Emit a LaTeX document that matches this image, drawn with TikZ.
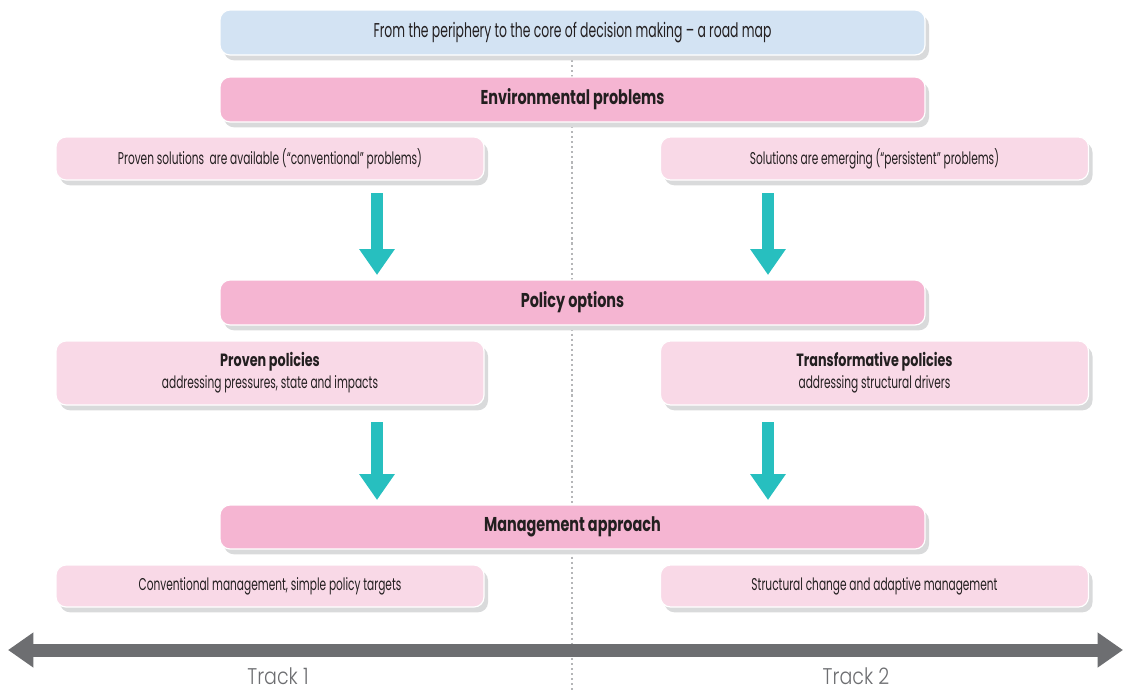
\documentclass[tikz,border=0pt]{standalone}
\usepackage{fontspec}
\setmainfont{Poppins}[FakeStretch=0.62, BoldFeatures={FakeStretch=0.72}]
\newfontfamily\trackfont{Poppins}[UprightFont={* Light}, FakeStretch=0.84]
\usetikzlibrary{arrows.meta,shadows}
\definecolor{topblue}{HTML}{D3E3F3}
\definecolor{pinkA}{HTML}{F5B5D2}
\definecolor{pinkB}{HTML}{F9D9E7}
\definecolor{tealA}{HTML}{27BFBF}
\definecolor{grayA}{HTML}{6D6E71}
\definecolor{shadowgray}{HTML}{D9DADB}
\definecolor{txt}{HTML}{231F20}
\definecolor{dotgray}{HTML}{B5B6B8}
\begin{document}
\begin{tikzpicture}[x=0.75pt,y=-0.75pt,
  card/.style={rounded corners=7.5pt, draw=white, line width=0.9pt, align=center, inner sep=0pt, text=txt,
    general shadow={fill=shadowgray, shadow xshift=3pt, shadow yshift=-4pt}},
  wide/.style={card, minimum width=528.75pt},
  side/.style={card, minimum width=321pt},
  headbox/.style={wide, fill=pinkA, minimum height=33.75pt, font=\fontsize{15}{18}\selectfont\bfseries},
  subbox/.style={side, fill=pinkB, font=\fontsize{12.8}{15}\selectfont},
  tealarrow/.style={draw=tealA, line width=9pt, -{Triangle[width=25.5pt,length=19.5pt]}},
  grayarrow/.style={draw=grayA, line width=9.75pt, {Triangle[width=25pt,length=19pt]}-{Triangle[width=25pt,length=19pt]}},
  dotline/.style={draw=dotgray, line width=0.8pt, dash pattern=on 1.6pt off 2.2pt},
  tracklabel/.style={text=grayA, font=\trackfont\fontsize{17}{20}\selectfont, inner sep=0pt, anchor=base}
]
\useasboundingbox (0,0) rectangle (1124,690);
% dotted centre line
\coordinate (dtop) at (572,55);
\coordinate (dbot) at (572,690);
\draw[dotline] (dtop) -- (dbot);

\node[wide, fill=topblue, minimum height=33.75pt, font=\fontsize{15}{18}\selectfont] (title) at (572.5,32.5) {From the periphery to the core of decision making -- a road map};

\node[headbox] (env) at (572.5,99.5) {Environmental problems};
\node[subbox, minimum height=32.25pt] (conv) at (270,158.5) {Proven solutions\ \ are available (``conventional'' problems)};
\node[subbox, minimum height=32.25pt] (pers) at (874.5,158.5) {Solutions are emerging (``persistent'' problems)};

\node[headbox] (pol) at (572.5,302.5) {Policy options};
\node[subbox, minimum height=48pt] (prov) at (270,373) {{\fontsize{13.3}{16}\selectfont\bfseries Proven policies}\\[1.5pt]addressing pressures, state and impacts};
\node[subbox, minimum height=48pt] (trans) at (874.5,373) {{\fontsize{13.3}{16}\selectfont\bfseries Transformative policies}\\[1.5pt]addressing structural drivers};

\node[headbox, minimum height=33pt] (man) at (572.5,527) {Management approach};
\node[subbox, minimum height=31.5pt] (cman) at (270,586) {Conventional management, simple policy targets};
\node[subbox, minimum height=31.5pt] (sman) at (874.5,586) {Structural change and adaptive management};

% teal arrows
\coordinate (a1s) at (377,193); \coordinate (a1e) at (377,275);
\coordinate (a2s) at (768,193); \coordinate (a2e) at (768,275);
\coordinate (a3s) at (377,422); \coordinate (a3e) at (377,500);
\coordinate (a4s) at (768,422); \coordinate (a4e) at (768,500);
\draw[tealarrow] (a1s) -- (a1e);
\draw[tealarrow] (a2s) -- (a2e);
\draw[tealarrow] (a3s) -- (a3e);
\draw[tealarrow] (a4s) -- (a4e);

% track axis
\coordinate (tl) at (8,650);
\coordinate (tr) at (1123,650);
\draw[grayarrow] (tl) -- (tr);
\node[tracklabel] (t1) at (278,684) {Track 1};
\node[tracklabel] (t2) at (856,684) {Track 2};
\end{tikzpicture}
\end{document}
